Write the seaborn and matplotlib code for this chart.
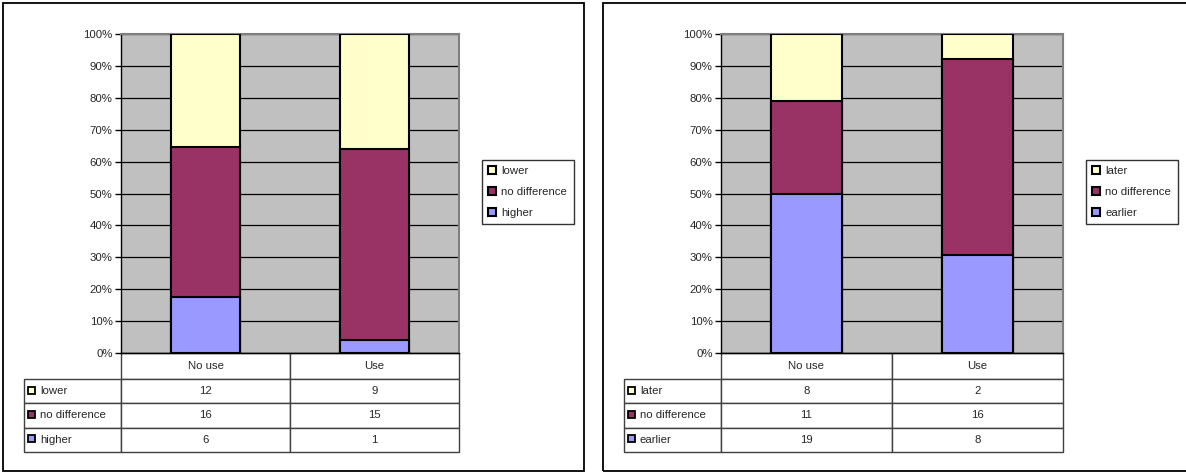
import numpy as np
import pandas as pd
import matplotlib
matplotlib.use('Agg')
import matplotlib.pyplot as plt
import seaborn as sns
from matplotlib.patches import Patch, Rectangle
from matplotlib.ticker import PercentFormatter

groups = ['No use', 'Use']

left_series = ['lower', 'no difference', 'higher']      # top -> bottom
left_lower = [12, 9]
left_nodiff = [16, 15]
left_higher = [6, 1]

right_series = ['later', 'no difference', 'earlier']    # top -> bottom
right_later = [8, 2]
right_nodiff = [11, 16]
right_earlier = [19, 8]

# colours, top -> bottom
colors = ['#FFFFCC', '#993366', '#9999FF']

sns.set_style('white')
plt.rcParams['font.family'] = ['Liberation Sans', 'DejaVu Sans']
FS = 8.2

fig = plt.figure(figsize=(11.86, 4.72), dpi=100)
W, H = 1186, 472


def px_axes(left, top, right, bottom):
    return [left / W, 1 - bottom / H, (right - left) / W, (bottom - top) / H]


def stacked_panel(ax, series_names, top, mid, bottom, label_w):
    df = pd.DataFrame({'group': groups, 'top': top, 'mid': mid, 'bottom': bottom})
    total = df[['top', 'mid', 'bottom']].sum(axis=1)
    # cumulative shares, drawn tallest first so the smaller ones sit on top
    levels = [
        (df['top'] + df['mid'] + df['bottom']) / total,
        (df['mid'] + df['bottom']) / total,
        df['bottom'] / total,
    ]
    for lev, col in zip(levels, colors):
        sns.barplot(x=df['group'], y=lev, color=col, saturation=1, width=0.41,
                    edgecolor='black', linewidth=1.5, ax=ax, zorder=3)

    ax.set_facecolor('#C0C0C0')
    ax.set_ylim(0, 1)
    ax.set_yticks(np.arange(0, 1.01, 0.1))
    ax.yaxis.set_major_formatter(PercentFormatter(1.0, decimals=0))
    ax.grid(axis='y', color='black', linewidth=0.9)
    ax.set_axisbelow(True)
    ax.tick_params(axis='y', direction='out', length=4, width=1, color='black',
                   labelsize=FS, pad=2, left=True)
    ax.tick_params(axis='x', bottom=False, labelbottom=False)
    ax.set_xlabel('')
    ax.set_ylabel('')
    for s in ['top', 'right']:
        ax.spines[s].set_color('#808080')
        ax.spines[s].set_linewidth(1.5)
    for s in ['left', 'bottom']:
        ax.spines[s].set_color('black')
        ax.spines[s].set_linewidth(1)

    # legend on the right
    handles = [Patch(facecolor=c, edgecolor='black', linewidth=1.5) for c in colors]
    pw = ax.get_position().width * W
    ph = ax.get_position().height * H
    leg = ax.legend(handles, series_names, loc='upper left',
                    bbox_to_anchor=(1 + 23 / pw, 1 - 126 / ph), fontsize=FS,
                    frameon=True, fancybox=False, edgecolor='black',
                    handlelength=0.65, handleheight=0.65, handletextpad=0.5,
                    labelspacing=0.95, borderpad=0.55, borderaxespad=0)
    leg.get_frame().set_linewidth(1)

    # data table underneath (bbox covers the grid incl. header, row labels hang left)
    cell_text = [[str(v) for v in top], [str(v) for v in mid], [str(v) for v in bottom]]
    header_px, row_px = 26, 24.3
    table_px = header_px + 3 * row_px
    tbl = ax.table(cellText=cell_text, rowLabels=series_names, colLabels=groups,
                   cellLoc='center', rowLoc='left',
                   bbox=[0, -table_px / ph, 1, table_px / ph])
    tbl._autoColumns = []
    tbl.auto_set_font_size(False)
    tbl.set_fontsize(FS)
    tbl.set_clip_on(False)
    for (r, c), cell in tbl.get_celld().items():
        cell.set_width(label_w / pw if c == -1 else 0.5)
        cell.set_height((header_px if r == 0 else row_px) / ph)
        cell.set_edgecolor('#404040')
        cell.set_linewidth(1)
        cell.set_clip_on(False)
        if c == -1:
            cell.PAD = 16 / label_w

    # coloured keys in the row-label cells
    sq = 7
    for i, col in enumerate(colors):
        cy = -(header_px + row_px * (i + 0.5)) / ph
        ax.add_patch(Rectangle((-(label_w - 4) / pw, cy - sq / 2 / ph + 1 / ph),
                               sq / pw, sq / ph, transform=ax.transAxes,
                               facecolor=col, edgecolor='black', linewidth=1.3,
                               clip_on=False, zorder=5))


ax1 = fig.add_axes(px_axes(121, 34, 459, 353))
stacked_panel(ax1, left_series, left_lower, left_nodiff, left_higher, 97)

ax2 = fig.add_axes(px_axes(721, 34, 1063, 353))
stacked_panel(ax2, right_series, right_later, right_nodiff, right_earlier, 97)

# chart-area frames
for l, r in [(3, 584), (603, 1192)]:
    fig.patches.append(Rectangle((l / W, 1 - 470.5 / H), (r - l) / W, 467.5 / H,
                                 transform=fig.transFigure, fill=False,
                                 edgecolor='black', linewidth=1.3))

fig.savefig('out.png', dpi=100)
